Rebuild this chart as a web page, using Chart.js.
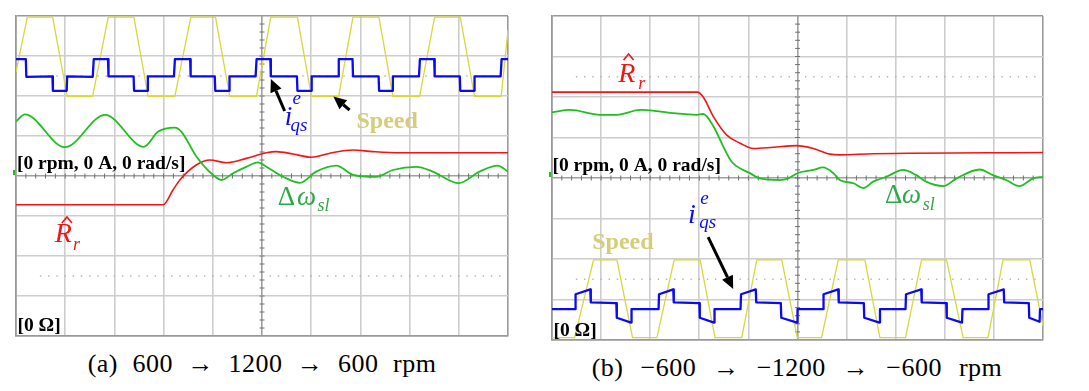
<!DOCTYPE html>
<html>
<head>
<meta charset="utf-8">
<script src="https://cdn.jsdelivr.net/npm/chart.js@4.4.0/dist/chart.umd.min.js"></script>
<style>
  body { margin: 0; background: #fff; width: 1089px; height: 391px; position: relative; overflow: hidden; }
  canvas { position: absolute; top: 0; }
  #chartA { left: 0; }
  #chartB { left: 540px; }
  .cap { position: absolute; font-family: 'Liberation Serif', serif; font-size: 26px; line-height: 26px;
         color: #000; white-space: pre; transform: translateX(-50%); letter-spacing: 0.5px; }
</style>
</head>
<body>
<canvas id="chartA" width="530" height="345"></canvas>
<canvas id="chartB" width="510" height="345"></canvas>
<div class="cap" style="left:262px; top:351px; word-spacing:7.5px;">(a) 600 → 1200 → 600 rpm</div>
<div class="cap" style="left:797px; top:355px; word-spacing:10px;">(b) −600 → −1200 → −600 rpm</div>
<script>
// scope traces, x in time divisions (0-10), y in vertical divisions (0-8)

// (a) 600 -> 1200 -> 600 rpm
const speedA_t = [0, 0.23, 0.745, 1.04, 1.557, 1.874, 2.396, 2.686, 3.228, 3.553, 4.055, 4.345, 4.887,
                  5.178, 5.72, 6.004, 6.558, 6.849, 7.377, 7.661, 8.203, 8.508, 9.03, 9.32, 9.862, 10];
const speedA_v = [6.6, 7.97, 7.97, 5.99, 5.99, 7.97, 7.97, 5.99, 5.99, 7.97, 7.97, 5.99, 5.99,
                  7.97, 7.97, 5.99, 5.99, 7.97, 7.97, 5.99, 5.99, 7.97, 7.97, 5.99, 5.99, 7.65];

const iqsA_t = [0, 0.2, 0.21, 0.74, 0.75, 1.03, 1.04, 1.56, 1.58, 1.87, 1.88, 2.39, 2.4, 2.67, 2.68,
                3.21, 3.23, 3.54, 3.55, 4.04, 4.05, 4.33, 4.34, 4.87, 4.89, 5.17, 5.18, 5.71, 5.72,
                6.0, 6.01, 6.55, 6.56, 6.84, 6.85, 7.37, 7.38, 7.65, 7.66, 8.19, 8.21, 8.5, 8.51,
                9.02, 9.03, 9.31, 9.32, 9.85, 9.87, 10];
const iqsA_v = [6.92, 6.92, 6.48, 6.49, 6.13, 6.13, 6.49, 6.48, 6.92, 6.92, 6.49, 6.49, 6.13, 6.13, 6.49,
                6.49, 6.92, 6.92, 6.49, 6.49, 6.13, 6.13, 6.49, 6.49, 6.92, 6.92, 6.49, 6.49, 6.13,
                6.13, 6.49, 6.49, 6.92, 6.92, 6.49, 6.49, 6.13, 6.13, 6.49, 6.49, 6.92, 6.92, 6.49,
                6.49, 6.13, 6.13, 6.49, 6.49, 6.92, 6.92];

const slipA_t = [0, 0.18, 0.995, 1.81, 2.6, 2.89, 3.23, 3.36, 3.67, 4.0, 4.18, 4.41, 4.68, 4.92,
                 5.09, 5.43, 5.77, 6.1, 6.51, 6.85, 7.32, 7.66, 8.14, 8.47, 9.0, 9.42, 9.79, 10];
const slipA_v = [5.36, 5.54, 4.72, 5.53, 4.73, 5.11, 5.21, 5.11, 4.48, 4.03, 3.9, 4.07, 4.23, 4.34,
                 4.23, 3.98, 3.83, 4.11, 4.26, 4.03, 3.98, 4.15, 4.23, 4.11, 3.82, 4.11, 4.26, 4.11];

const rrA_t = [0, 2.99, 3.19, 3.33, 3.67, 3.94, 4.28, 4.68, 5.09, 5.29, 5.63, 6.0, 6.38, 6.85, 7.25, 7.8, 10];
const rrA_v = [3.28, 3.28, 3.65, 3.9, 4.28, 4.4, 4.33, 4.44, 4.58, 4.61, 4.55, 4.47, 4.57, 4.65, 4.61, 4.58, 4.58];

// (b) -600 -> -1200 -> -600 rpm
const speedB_t = [0, 0.46, 0.846, 1.322, 1.64, 2.136, 2.488, 3.017, 3.32, 3.865, 4.17, 4.679, 4.996,
                  5.49, 5.83, 6.373, 6.678, 7.2, 7.526, 8.035, 8.373, 8.88, 9.186, 9.73, 10];
const speedB_v = [0.06, 0.06, 1.98, 1.98, 0.06, 0.06, 1.98, 1.98, 0.06, 0.06, 1.98, 1.98, 0.06,
                  0.06, 1.98, 1.98, 0.06, 0.06, 1.98, 1.98, 0.06, 0.06, 1.98, 1.98, 0.35];

const iqsB_t = [0, 0.47, 0.48, 0.78, 0.79, 1.31, 1.32, 1.61, 1.62, 2.17, 2.18, 2.47, 2.48, 3.0, 3.01,
                3.3, 3.31, 3.84, 3.85, 4.15, 4.16, 4.66, 4.67, 4.99, 5.0, 5.52, 5.53, 5.83, 5.84,
                6.35, 6.36, 6.67, 6.68, 7.2, 7.21, 7.52, 7.53, 8.03, 8.04, 8.35, 8.36, 8.88, 8.89,
                9.2, 9.21, 9.71, 9.72, 9.93, 9.94, 10];
const iqsB_v = [0.76, 0.76, 1.13, 1.25, 0.93, 0.91, 0.55, 0.43, 0.76, 0.76, 1.13, 1.25, 0.93, 0.91, 0.55,
                0.43, 0.76, 0.76, 1.13, 1.25, 0.93, 0.91, 0.55, 0.43, 0.76, 0.76, 1.13, 1.25, 0.93,
                0.91, 0.55, 0.43, 0.76, 0.76, 1.13, 1.25, 0.93, 0.91, 0.55, 0.43, 0.76, 0.76, 1.13,
                1.25, 0.93, 0.91, 0.55, 0.45, 0.76, 0.76];

const slipB_t = [0, 0.37, 0.98, 1.32, 1.8, 2.14, 2.47, 2.95, 3.08, 3.29, 3.49, 3.66, 4.03, 4.24, 4.64,
                 4.81, 5.02, 5.32, 5.52, 5.73, 5.86, 6.14, 6.34, 6.54, 6.81, 7.15, 7.42, 7.62, 7.97,
                 8.24, 8.71, 8.98, 9.25, 9.52, 9.8, 10];
const slipB_v = [5.62, 5.68, 5.56, 5.56, 5.68, 5.65, 5.6, 5.56, 5.58, 5.27, 4.77, 4.4, 4.12, 3.99, 3.95,
                 3.99, 4.13, 4.2, 4.26, 4.12, 3.95, 3.87, 3.75, 3.91, 4.03, 4.2, 4.07, 3.91, 3.8,
                 3.99, 4.21, 4.07, 3.95, 3.8, 3.99, 4.03];

const rrB_t = [0, 2.96, 3.08, 3.29, 3.56, 3.83, 4.1, 4.51, 4.98, 5.32, 5.66, 5.86, 6.54, 10];
const rrB_v = [6.12, 6.12, 6.0, 5.51, 5.06, 4.86, 4.73, 4.76, 4.8, 4.73, 4.59, 4.57, 4.6, 4.63];

const COL = { speed: '#d8d83a', iqs: '#0a0af5', slip: '#1fbf1f', rr: '#f51414' };
const SERIF = '"Liberation Serif", serif';

function pts(t, v) { return t.map((x, i) => ({ x: x, y: v[i] })); }

// dotted marker lines, centre-axis ticks, labels and arrows
const scopeDeco = {
  id: 'scopeDeco',
  beforeDatasetsDraw(chart) {
    const { ctx, scales: { x, y } } = chart;
    ctx.save();
    ctx.fillStyle = '#b0b0b0';
    for (const lvl of [1.5, 6.5]) {
      const py = y.getPixelForValue(lvl);
      for (let u = 0.5; u < 9.9; u += 1 / 6) ctx.fillRect(x.getPixelForValue(u) - 0.7, py - 0.7, 1.4, 1.4);
    }
    const cx = x.getPixelForValue(5), cy = y.getPixelForValue(4);
    ctx.strokeStyle = '#707070';
    ctx.lineWidth = 1;
    ctx.beginPath();
    for (let k = 1; k < 40; k++) {
      const p = y.getPixelForValue(k * 0.2);
      ctx.moveTo(cx - 2.5, p); ctx.lineTo(cx + 2.5, p);
    }
    for (let k = 1; k < 50; k++) {
      const p = x.getPixelForValue(k * 0.2);
      ctx.moveTo(p, cy - 2.5); ctx.lineTo(p, cy + 2.5);
    }
    ctx.stroke();
    // channel marker at left edge
    ctx.fillStyle = COL.slip;
    ctx.fillRect(chart.chartArea.left - 3, cy - 6, 2, 5);
    ctx.restore();
  },
  afterDatasetsDraw(chart, args, opts) {
    const { ctx, scales: { x, y } } = chart;
    ctx.save();
    ctx.textBaseline = 'alphabetic';
    (opts.texts || []).forEach(d => {
      ctx.font = d.font;
      ctx.fillStyle = d.color || '#000';
      ctx.fillText(d.t, x.getPixelForValue(d.x), y.getPixelForValue(d.y));
    });
    (opts.hats || []).forEach(h => {
      const px = x.getPixelForValue(h.x), py = y.getPixelForValue(h.y);
      ctx.strokeStyle = h.color;
      ctx.lineWidth = 1.6;
      ctx.beginPath();
      ctx.moveTo(px - 5, py + 3); ctx.lineTo(px, py - 3); ctx.lineTo(px + 5, py + 3);
      ctx.stroke();
    });
    (opts.arrows || []).forEach(a => {
      const x0 = x.getPixelForValue(a.from[0]), y0 = y.getPixelForValue(a.from[1]);
      const x1 = x.getPixelForValue(a.to[0]), y1 = y.getPixelForValue(a.to[1]);
      const ang = Math.atan2(y1 - y0, x1 - x0), L = 13, W = 6;
      const bx = x1 - L * Math.cos(ang), by = y1 - L * Math.sin(ang);
      ctx.strokeStyle = '#000'; ctx.fillStyle = '#000'; ctx.lineWidth = 3;
      ctx.beginPath(); ctx.moveTo(x0, y0); ctx.lineTo(bx, by); ctx.stroke();
      ctx.beginPath();
      ctx.moveTo(x1, y1);
      ctx.lineTo(bx + W * Math.sin(ang), by - W * Math.cos(ang));
      ctx.lineTo(bx - W * Math.sin(ang), by + W * Math.cos(ang));
      ctx.closePath(); ctx.fill();
    });
    ctx.restore();
  }
};

function gridColor(max, mid) {
  return c => (c.tick.value === 0 || c.tick.value === max) ? '#9a9a9a'
    : (c.tick.value === mid ? '#a0a0a0' : '#cdcdcd');
}

function scopeChart(id, sets, pad, deco) {
  new Chart(document.getElementById(id), {
    type: 'line',
    data: {
      datasets: [
        { data: pts(sets.slip[0], sets.slip[1]), borderColor: COL.slip, borderWidth: 1.8, cubicInterpolationMode: 'monotone' },
        { data: pts(sets.rr[0], sets.rr[1]), borderColor: COL.rr, borderWidth: 1.6, cubicInterpolationMode: 'monotone' },
        { data: pts(sets.iqs[0], sets.iqs[1]), borderColor: COL.iqs, borderWidth: 2.3 },
        { data: pts(sets.speed[0], sets.speed[1]), borderColor: COL.speed, borderWidth: 1.3 }
      ]
    },
    options: {
      responsive: false,
      animation: false,
      devicePixelRatio: 1,
      layout: { padding: pad },
      elements: { point: { radius: 0 }, line: { tension: 0, fill: false, borderJoinStyle: 'round' } },
      plugins: { legend: { display: false }, tooltip: { enabled: false }, scopeDeco: deco },
      scales: {
        x: { type: 'linear', min: 0, max: 10, ticks: { display: false, stepSize: 1 },
             grid: { drawTicks: false, color: gridColor(10, 5), lineWidth: 1.6 },
             border: { display: true, color: '#9a9a9a', width: 1.6 } },
        y: { type: 'linear', min: 0, max: 8, ticks: { display: false, stepSize: 1 },
             grid: { drawTicks: false, color: gridColor(8, 4), lineWidth: 1.6 },
             border: { display: true, color: '#9a9a9a', width: 1.6 } }
      }
    },
    plugins: [scopeDeco]
  });
}

const boldLab = 'bold 19.5px ' + SERIF;
const speedFont = 'bold 24px ' + SERIF;
const speedCol = '#d5cd7a', labGreen = '#2fa84a';

scopeChart('chartA',
  { speed: [speedA_t, speedA_v], iqs: [iqsA_t, iqsA_v], slip: [slipA_t, slipA_v], rr: [rrA_t, rrA_v] },
  { left: 16, top: 16, right: 22, bottom: 9 },
  {
    texts: [
      { t: '[0 rpm, 0 A, 0 rad/s]', x: 0.02, y: 4.175, font: boldLab },
      { t: '[0 Ω]', x: 0.03, y: 0.125, font: boldLab },
      { t: 'Speed', x: 6.92, y: 5.2, font: speedFont, color: speedCol },
      { t: 'i', x: 5.46, y: 5.275, font: 'italic 27px ' + SERIF, color: COL.iqs },
      { t: 'e', x: 5.62, y: 5.8, font: 'italic 19px ' + SERIF, color: COL.iqs },
      { t: 'qs', x: 5.58, y: 5.13, font: 'italic 19px ' + SERIF, color: COL.iqs },
      { t: 'Δ', x: 5.32, y: 3.275, font: '27px ' + SERIF, color: labGreen },
      { t: 'ω', x: 5.71, y: 3.275, font: 'italic 27px ' + SERIF, color: labGreen },
      { t: 'sl', x: 6.13, y: 3.125, font: 'italic 18px ' + SERIF, color: labGreen },
      { t: 'R', x: 0.79, y: 2.35, font: 'italic 28px ' + SERIF, color: COL.rr },
      { t: 'r', x: 1.16, y: 2.15, font: 'italic 18px ' + SERIF, color: COL.rr }
    ],
    hats: [{ x: 1.035, y: 2.9, color: COL.rr }],
    arrows: [
      { from: [5.46, 5.625], to: [5.18, 6.425] },
      { from: [6.78, 5.65], to: [6.45, 5.99] }
    ]
  });

scopeChart('chartB',
  { speed: [speedB_t, speedB_v], iqs: [iqsB_t, iqsB_v], slip: [slipB_t, slipB_v], rr: [rrB_t, rrB_v] },
  { left: 12, top: 16, right: 7, bottom: 5 },
  {
    texts: [
      { t: '[0 rpm, 0 A, 0 rad/s]', x: 0.01, y: 4.17, font: boldLab },
      { t: '[0 Ω]', x: 0.03, y: 0.1, font: boldLab },
      { t: 'Speed', x: 0.82, y: 2.25, font: speedFont, color: speedCol },
      { t: 'i', x: 2.77, y: 2.89, font: 'italic 28px ' + SERIF, color: COL.iqs },
      { t: 'e', x: 3.02, y: 3.36, font: 'italic 19px ' + SERIF, color: COL.iqs },
      { t: 'qs', x: 3.0, y: 2.765, font: 'italic 19px ' + SERIF, color: COL.iqs },
      { t: 'Δ', x: 6.78, y: 3.38, font: '27px ' + SERIF, color: labGreen },
      { t: 'ω', x: 7.13, y: 3.38, font: 'italic 27px ' + SERIF, color: labGreen },
      { t: 'sl', x: 7.55, y: 3.21, font: 'italic 18px ' + SERIF, color: labGreen },
      { t: 'R', x: 1.35, y: 6.37, font: 'italic 28px ' + SERIF, color: COL.rr },
      { t: 'r', x: 1.755, y: 6.2, font: 'italic 18px ' + SERIF, color: COL.rr }
    ],
    hats: [{ x: 1.56, y: 6.99, color: COL.rr }],
    arrows: [
      { from: [3.18, 2.54], to: [3.69, 1.26] }
    ]
  });
</script>
</body>
</html>
